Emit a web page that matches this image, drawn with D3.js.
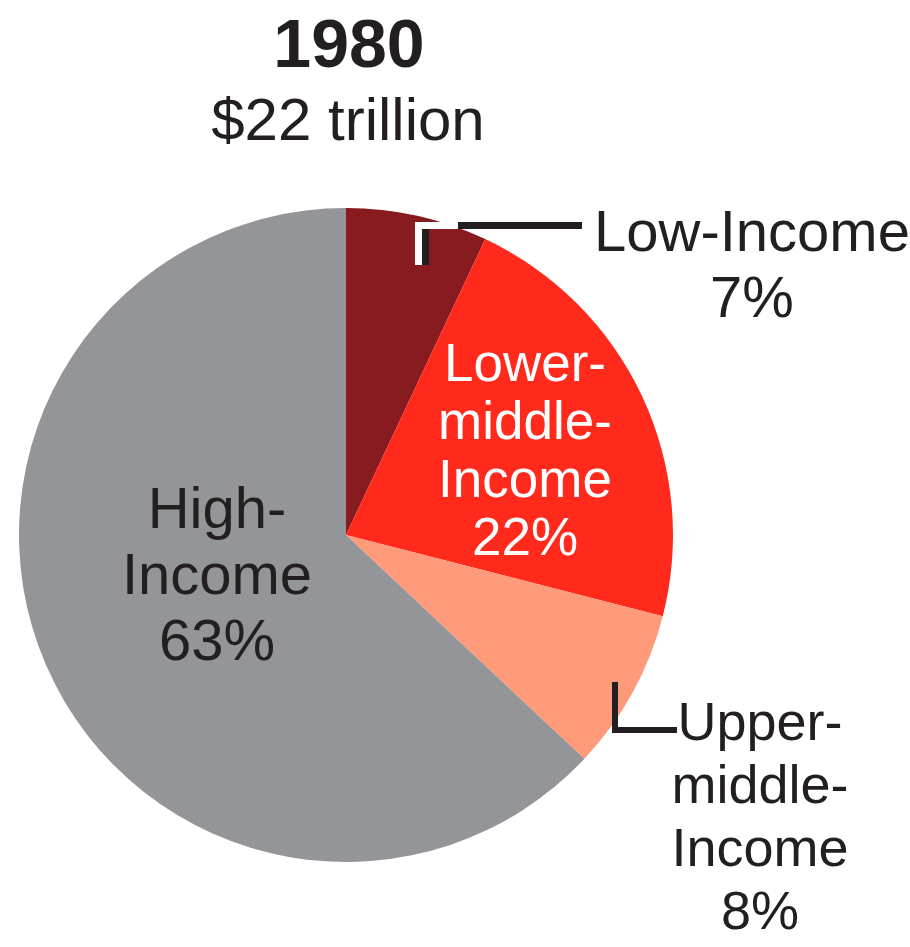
<!DOCTYPE html>
<html lang="en">
<head>
    <meta charset="UTF-8">
    <title>1980 income pie</title>
    <style>
        body {
            margin: 0;
            background-color: white;
            font-family: "Liberation Sans", Arial, sans-serif;
        }
        svg text {
            fill: #231f20;
        }
    </style>
    <script src="https://d3js.org/d3.v7.min.js"></script>
</head>
<body>
    <div id="chart"></div>
    <script>
        // Data
        const categories = ["Low-income", "Lower-middle-income", "Upper-middle-income", "High-income"];
        const shares = [7, 22, 8, 63];
        const colors = ["#871b1f", "#ff2a1b", "#ff9a7a", "#939598"];
        const titleLines = ["1980", "$22 trillion"];

        // Label lines for each slice
        const labelLines = [
            ["Low-Income", "7%"],
            ["Lower-", "middle-", "Income", "22%"],
            ["Upper-", "middle-", "Income", "8%"],
            ["High-", "Income", "63%"]
        ];

        const width = 910, height = 947;
        const cx = 346, cy = 535, radius = 327;

        const svg = d3.select("#chart").append("svg")
            .attr("width", width)
            .attr("height", height);

        // Title
        svg.append("text")
            .attr("x", 349).attr("y", 67)
            .attr("text-anchor", "middle")
            .attr("font-size", 68)
            .attr("font-weight", "bold")
            .text(titleLines[0]);
        svg.append("text")
            .attr("x", 348).attr("y", 140)
            .attr("text-anchor", "middle")
            .attr("font-size", 60)
            .text(titleLines[1]);

        // Pie, clockwise from 12 o'clock
        const pie = d3.pie().sort(null).value(d => d);
        const arcs = pie(shares);
        const arc = d3.arc().innerRadius(0).outerRadius(radius);

        const g = svg.append("g").attr("transform", `translate(${cx},${cy})`);
        g.selectAll("path")
            .data(arcs)
            .enter().append("path")
            .attr("d", arc)
            .attr("fill", (d, i) => colors[i]);

        // Leader lines
        const line = d3.line();
        // Low-income elbow: white halo, then black segments
        svg.append("path")
            .attr("d", line([[458, 225.5], [418.5, 225.5], [418.5, 265]]))
            .attr("fill", "none").attr("stroke", "white").attr("stroke-width", 7);
        svg.append("path")
            .attr("d", line([[458, 225.5], [582, 225.5]]))
            .attr("fill", "none").attr("stroke", "#231f20").attr("stroke-width", 7);
        svg.append("path")
            .attr("d", line([[425.5, 229], [425.5, 265]]))
            .attr("fill", "none").attr("stroke", "#231f20").attr("stroke-width", 7);
        // Upper-middle elbow
        svg.append("path")
            .attr("d", line([[615, 682], [615, 730], [677, 730]]))
            .attr("fill", "none").attr("stroke", "#231f20").attr("stroke-width", 6);

        // Labels
        const labelPos = [
            { x: 752, y: 251, step: 66, size: 58, color: "#231f20" },
            { x: 525, y: 381, step: 58, size: 53, color: "white" },
            { x: 760, y: 740, step: 63, size: 54, color: "#231f20" },
            { x: 217, y: 528, step: 66, size: 58, color: "#231f20" }
        ];
        labelLines.forEach((lines, i) => {
            const p = labelPos[i];
            const t = svg.append("text")
                .attr("text-anchor", "middle")
                .attr("font-size", p.size)
                .style("fill", p.color);
            lines.forEach((s, j) => {
                t.append("tspan")
                    .attr("x", p.x)
                    .attr("y", p.y + j * p.step)
                    .text(s);
            });
        });
    </script>
</body>
</html>
